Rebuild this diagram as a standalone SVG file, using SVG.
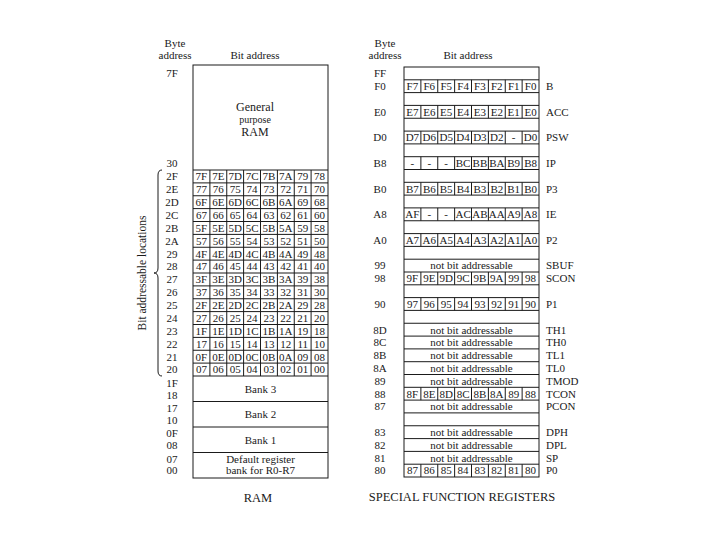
<svg xmlns="http://www.w3.org/2000/svg" xmlns:xlink="http://www.w3.org/1999/xlink" width="720" height="540" viewBox="0 0 720 540">
<style>
text{font-family:"Liberation Serif","Times New Roman",serif;fill:#1a1a1a;font-size:11px}
.m{text-anchor:middle}
.s{text-anchor:start}
.c text,.c{text-anchor:middle;font-size:11px}
.cap{text-anchor:middle;font-size:12.5px}
.ln{fill:none;stroke:#1a1a1a;stroke-width:1}
</style>
<defs>
<path id="div" class="ln" d="M16.875 0v12.8M33.75 0v12.8M50.625 0v12.8M67.5 0v12.8M84.375 0v12.8M101.25 0v12.8M118.125 0v12.8"/>
</defs>
<rect width="720" height="540" fill="#fff"/>

<g id="ram">
<text class="m" x="175" y="46.5">Byte</text>
<text class="m" x="175" y="58.5">address</text>
<text class="m" x="255" y="58.5">Bit address</text>
<rect class="ln" x="193" y="65" width="135" height="413"/>
<path class="ln" d="M193 170H328M193 182.9H328M193 195.75H328M193 208.6H328M193 221.5H328M193 234.4H328M193 247.25H328M193 260.1H328M193 273H328M193 285.9H328M193 298.75H328M193 311.6H328M193 324.5H328M193 337.4H328M193 350.25H328M193 363.1H328M193 376H328M193 401.5H328M193 427H328M193 452.5H328M209.9 170V376M226.75 170V376M243.6 170V376M260.5 170V376M277.4 170V376M294.25 170V376M311.1 170V376"/>
<text class="m" x="255" y="111" style="font-size:12px">General</text>
<text class="m" x="255" y="123" style="font-size:10px">purpose</text>
<text class="m" x="255" y="136" style="font-size:12px">RAM</text>
<g class="c">
<text y="180.2"><tspan x="201.4">7F</tspan><tspan x="218.3">7E</tspan><tspan x="235.2">7D</tspan><tspan x="252.1">7C</tspan><tspan x="268.9">7B</tspan><tspan x="285.8">7A</tspan><tspan x="302.7">79</tspan><tspan x="319.6">78</tspan></text>
<text y="193.1"><tspan x="201.4">77</tspan><tspan x="218.3">76</tspan><tspan x="235.2">75</tspan><tspan x="252.1">74</tspan><tspan x="268.9">73</tspan><tspan x="285.8">72</tspan><tspan x="302.7">71</tspan><tspan x="319.6">70</tspan></text>
<text y="206"><tspan x="201.4">6F</tspan><tspan x="218.3">6E</tspan><tspan x="235.2">6D</tspan><tspan x="252.1">6C</tspan><tspan x="268.9">6B</tspan><tspan x="285.8">6A</tspan><tspan x="302.7">69</tspan><tspan x="319.6">68</tspan></text>
<text y="218.9"><tspan x="201.4">67</tspan><tspan x="218.3">66</tspan><tspan x="235.2">65</tspan><tspan x="252.1">64</tspan><tspan x="268.9">63</tspan><tspan x="285.8">62</tspan><tspan x="302.7">61</tspan><tspan x="319.6">60</tspan></text>
<text y="231.7"><tspan x="201.4">5F</tspan><tspan x="218.3">5E</tspan><tspan x="235.2">5D</tspan><tspan x="252.1">5C</tspan><tspan x="268.9">5B</tspan><tspan x="285.8">5A</tspan><tspan x="302.7">59</tspan><tspan x="319.6">58</tspan></text>
<text y="244.6"><tspan x="201.4">57</tspan><tspan x="218.3">56</tspan><tspan x="235.2">55</tspan><tspan x="252.1">54</tspan><tspan x="268.9">53</tspan><tspan x="285.8">52</tspan><tspan x="302.7">51</tspan><tspan x="319.6">50</tspan></text>
<text y="257.5"><tspan x="201.4">4F</tspan><tspan x="218.3">4E</tspan><tspan x="235.2">4D</tspan><tspan x="252.1">4C</tspan><tspan x="268.9">4B</tspan><tspan x="285.8">4A</tspan><tspan x="302.7">49</tspan><tspan x="319.6">48</tspan></text>
<text y="270.4"><tspan x="201.4">47</tspan><tspan x="218.3">46</tspan><tspan x="235.2">45</tspan><tspan x="252.1">44</tspan><tspan x="268.9">43</tspan><tspan x="285.8">42</tspan><tspan x="302.7">41</tspan><tspan x="319.6">40</tspan></text>
<text y="283.2"><tspan x="201.4">3F</tspan><tspan x="218.3">3E</tspan><tspan x="235.2">3D</tspan><tspan x="252.1">3C</tspan><tspan x="268.9">3B</tspan><tspan x="285.8">3A</tspan><tspan x="302.7">39</tspan><tspan x="319.6">38</tspan></text>
<text y="296.1"><tspan x="201.4">37</tspan><tspan x="218.3">36</tspan><tspan x="235.2">35</tspan><tspan x="252.1">34</tspan><tspan x="268.9">33</tspan><tspan x="285.8">32</tspan><tspan x="302.7">31</tspan><tspan x="319.6">30</tspan></text>
<text y="309"><tspan x="201.4">2F</tspan><tspan x="218.3">2E</tspan><tspan x="235.2">2D</tspan><tspan x="252.1">2C</tspan><tspan x="268.9">2B</tspan><tspan x="285.8">2A</tspan><tspan x="302.7">29</tspan><tspan x="319.6">28</tspan></text>
<text y="321.9"><tspan x="201.4">27</tspan><tspan x="218.3">26</tspan><tspan x="235.2">25</tspan><tspan x="252.1">24</tspan><tspan x="268.9">23</tspan><tspan x="285.8">22</tspan><tspan x="302.7">21</tspan><tspan x="319.6">20</tspan></text>
<text y="334.7"><tspan x="201.4">1F</tspan><tspan x="218.3">1E</tspan><tspan x="235.2">1D</tspan><tspan x="252.1">1C</tspan><tspan x="268.9">1B</tspan><tspan x="285.8">1A</tspan><tspan x="302.7">19</tspan><tspan x="319.6">18</tspan></text>
<text y="347.6"><tspan x="201.4">17</tspan><tspan x="218.3">16</tspan><tspan x="235.2">15</tspan><tspan x="252.1">14</tspan><tspan x="268.9">13</tspan><tspan x="285.8">12</tspan><tspan x="302.7">11</tspan><tspan x="319.6">10</tspan></text>
<text y="360.5"><tspan x="201.4">0F</tspan><tspan x="218.3">0E</tspan><tspan x="235.2">0D</tspan><tspan x="252.1">0C</tspan><tspan x="268.9">0B</tspan><tspan x="285.8">0A</tspan><tspan x="302.7">09</tspan><tspan x="319.6">08</tspan></text>
<text y="373.4"><tspan x="201.4">07</tspan><tspan x="218.3">06</tspan><tspan x="235.2">05</tspan><tspan x="252.1">04</tspan><tspan x="268.9">03</tspan><tspan x="285.8">02</tspan><tspan x="302.7">01</tspan><tspan x="319.6">00</tspan></text>
</g>
<g class="c">
<text x="172" y="76.7">7F</text>
<text x="172" y="166.7">30</text>
<text x="172" y="180.2">2F</text>
<text x="172" y="193.1">2E</text>
<text x="172" y="206">2D</text>
<text x="172" y="218.9">2C</text>
<text x="172" y="231.7">2B</text>
<text x="172" y="244.6">2A</text>
<text x="172" y="257.5">29</text>
<text x="172" y="270.4">28</text>
<text x="172" y="283.2">27</text>
<text x="172" y="296.1">26</text>
<text x="172" y="309">25</text>
<text x="172" y="321.9">24</text>
<text x="172" y="334.7">23</text>
<text x="172" y="347.6">22</text>
<text x="172" y="360.5">21</text>
<text x="172" y="373.4">20</text>
<text x="172" y="386.7">1F</text>
<text x="172" y="398.7">18</text>
<text x="172" y="411.7">17</text>
<text x="172" y="424.4">10</text>
<text x="172" y="436.7">0F</text>
<text x="172" y="449.4">08</text>
<text x="172" y="462.7">07</text>
<text x="172" y="474.4">00</text>
</g>
<g class="c">
<text x="260.5" y="392.5">Bank 3</text>
<text x="260.5" y="418">Bank 2</text>
<text x="260.5" y="443.5">Bank 1</text>
<text x="260.5" y="462.7">Default register</text>
<text x="260.5" y="474.4">bank for R0-R7</text>
</g>
<path class="ln" d="M162 170Q158 170 158 175L158 268Q158 273 154 273Q158 273 158 278L158 371Q158 376 162 376"/>
<text class="m" transform="translate(146,273) rotate(-90)" style="font-size:11.5px">Bit addressable locations</text>
<text class="cap" x="258" y="502">RAM</text>
</g>

<g id="sfr">
<text class="m" x="385" y="46.5">Byte</text>
<text class="m" x="385" y="58.5">address</text>
<text class="m" x="468" y="58.5">Bit address</text>
<rect class="ln" x="404" y="67" width="135" height="410"/>
<path class="ln" d="M404 79.8H539M404 92.6H539M404 105.4H539M404 118.25H539M404 131.1H539M404 143.9H539M404 156.7H539M404 169.5H539M404 182.3H539M404 195.1H539M404 207.9H539M404 220.75H539M404 233.6H539M404 246.4H539M404 259.2H539M404 272H539M404 284.8H539M404 297.6H539M404 310.4H539M404 323.25H539M404 336.1H539M404 348.9H539M404 361.7H539M404 374.5H539M404 387.3H539M404 400.1H539M404 412.9H539M404 425.75H539M404 438.6H539M404 451.4H539M404 464.2H539"/>
<use xlink:href="#div" href="#div" x="404" y="79.8"/>
<use xlink:href="#div" href="#div" x="404" y="105.4"/>
<use xlink:href="#div" href="#div" x="404" y="131.1"/>
<use xlink:href="#div" href="#div" x="404" y="156.7"/>
<use xlink:href="#div" href="#div" x="404" y="182.3"/>
<use xlink:href="#div" href="#div" x="404" y="207.9"/>
<use xlink:href="#div" href="#div" x="404" y="233.6"/>
<use xlink:href="#div" href="#div" x="404" y="272"/>
<use xlink:href="#div" href="#div" x="404" y="297.6"/>
<use xlink:href="#div" href="#div" x="404" y="387.3"/>
<use xlink:href="#div" href="#div" x="404" y="464.2"/>
<g class="c">
<text y="90"><tspan x="412.4">F7</tspan><tspan x="429.3">F6</tspan><tspan x="446.2">F5</tspan><tspan x="463.1">F4</tspan><tspan x="479.9">F3</tspan><tspan x="496.8">F2</tspan><tspan x="513.7">F1</tspan><tspan x="530.6">F0</tspan></text>
<text y="115.6"><tspan x="412.4">E7</tspan><tspan x="429.3">E6</tspan><tspan x="446.2">E5</tspan><tspan x="463.1">E4</tspan><tspan x="479.9">E3</tspan><tspan x="496.8">E2</tspan><tspan x="513.7">E1</tspan><tspan x="530.6">E0</tspan></text>
<text y="141.3"><tspan x="412.4">D7</tspan><tspan x="429.3">D6</tspan><tspan x="446.2">D5</tspan><tspan x="463.1">D4</tspan><tspan x="479.9">D3</tspan><tspan x="496.8">D2</tspan><tspan x="513.7">-</tspan><tspan x="530.6">D0</tspan></text>
<text y="166.9"><tspan x="412.4">-</tspan><tspan x="429.3">-</tspan><tspan x="446.2">-</tspan><tspan x="463.1">BC</tspan><tspan x="479.9">BB</tspan><tspan x="496.8">BA</tspan><tspan x="513.7">B9</tspan><tspan x="530.6">B8</tspan></text>
<text y="192.5"><tspan x="412.4">B7</tspan><tspan x="429.3">B6</tspan><tspan x="446.2">B5</tspan><tspan x="463.1">B4</tspan><tspan x="479.9">B3</tspan><tspan x="496.8">B2</tspan><tspan x="513.7">B1</tspan><tspan x="530.6">B0</tspan></text>
<text y="218.1"><tspan x="412.4">AF</tspan><tspan x="429.3">-</tspan><tspan x="446.2">-</tspan><tspan x="463.1">AC</tspan><tspan x="479.9">AB</tspan><tspan x="496.8">AA</tspan><tspan x="513.7">A9</tspan><tspan x="530.6">A8</tspan></text>
<text y="243.8"><tspan x="412.4">A7</tspan><tspan x="429.3">A6</tspan><tspan x="446.2">A5</tspan><tspan x="463.1">A4</tspan><tspan x="479.9">A3</tspan><tspan x="496.8">A2</tspan><tspan x="513.7">A1</tspan><tspan x="530.6">A0</tspan></text>
<text y="282.2"><tspan x="412.4">9F</tspan><tspan x="429.3">9E</tspan><tspan x="446.2">9D</tspan><tspan x="463.1">9C</tspan><tspan x="479.9">9B</tspan><tspan x="496.8">9A</tspan><tspan x="513.7">99</tspan><tspan x="530.6">98</tspan></text>
<text y="307.8"><tspan x="412.4">97</tspan><tspan x="429.3">96</tspan><tspan x="446.2">95</tspan><tspan x="463.1">94</tspan><tspan x="479.9">93</tspan><tspan x="496.8">92</tspan><tspan x="513.7">91</tspan><tspan x="530.6">90</tspan></text>
<text y="397.5"><tspan x="412.4">8F</tspan><tspan x="429.3">8E</tspan><tspan x="446.2">8D</tspan><tspan x="463.1">8C</tspan><tspan x="479.9">8B</tspan><tspan x="496.8">8A</tspan><tspan x="513.7">89</tspan><tspan x="530.6">88</tspan></text>
<text y="474.4"><tspan x="412.4">87</tspan><tspan x="429.3">86</tspan><tspan x="446.2">85</tspan><tspan x="463.1">84</tspan><tspan x="479.9">83</tspan><tspan x="496.8">82</tspan><tspan x="513.7">81</tspan><tspan x="530.6">80</tspan></text>
<text x="471.5" y="269.4">not bit addressable</text>
<text x="471.5" y="333.5">not bit addressable</text>
<text x="471.5" y="346.3">not bit addressable</text>
<text x="471.5" y="359.1">not bit addressable</text>
<text x="471.5" y="371.9">not bit addressable</text>
<text x="471.5" y="384.7">not bit addressable</text>
<text x="471.5" y="410.3">not bit addressable</text>
<text x="471.5" y="436">not bit addressable</text>
<text x="471.5" y="448.8">not bit addressable</text>
<text x="471.5" y="461.6">not bit addressable</text>
</g>
<g class="c">
<text x="380" y="77.2">FF</text>
<text x="380" y="90">F0</text>
<text x="380" y="115.6">E0</text>
<text x="380" y="141.3">D0</text>
<text x="380" y="166.9">B8</text>
<text x="380" y="192.5">B0</text>
<text x="380" y="218.1">A8</text>
<text x="380" y="243.8">A0</text>
<text x="380" y="269.4">99</text>
<text x="380" y="282.2">98</text>
<text x="380" y="307.8">90</text>
<text x="380" y="333.5">8D</text>
<text x="380" y="346.3">8C</text>
<text x="380" y="359.1">8B</text>
<text x="380" y="371.9">8A</text>
<text x="380" y="384.7">89</text>
<text x="380" y="397.5">88</text>
<text x="380" y="410.3">87</text>
<text x="380" y="436">83</text>
<text x="380" y="448.8">82</text>
<text x="380" y="461.6">81</text>
<text x="380" y="474.4">80</text>
</g>
<g>
<text class="s" x="546" y="90">B</text>
<text class="s" x="546" y="115.6">ACC</text>
<text class="s" x="546" y="141.3">PSW</text>
<text class="s" x="546" y="166.9">IP</text>
<text class="s" x="546" y="192.5">P3</text>
<text class="s" x="546" y="218.1">IE</text>
<text class="s" x="546" y="243.8">P2</text>
<text class="s" x="546" y="269.4">SBUF</text>
<text class="s" x="546" y="282.2">SCON</text>
<text class="s" x="546" y="307.8">P1</text>
<text class="s" x="546" y="333.5">TH1</text>
<text class="s" x="546" y="346.3">TH0</text>
<text class="s" x="546" y="359.1">TL1</text>
<text class="s" x="546" y="371.9">TL0</text>
<text class="s" x="546" y="384.7">TMOD</text>
<text class="s" x="546" y="397.5">TCON</text>
<text class="s" x="546" y="410.3">PCON</text>
<text class="s" x="546" y="436">DPH</text>
<text class="s" x="546" y="448.8">DPL</text>
<text class="s" x="546" y="461.6">SP</text>
<text class="s" x="546" y="474.4">P0</text>
</g>
<text class="cap" x="462" y="501">SPECIAL FUNCTION REGISTERS</text>
</g>
</svg>
